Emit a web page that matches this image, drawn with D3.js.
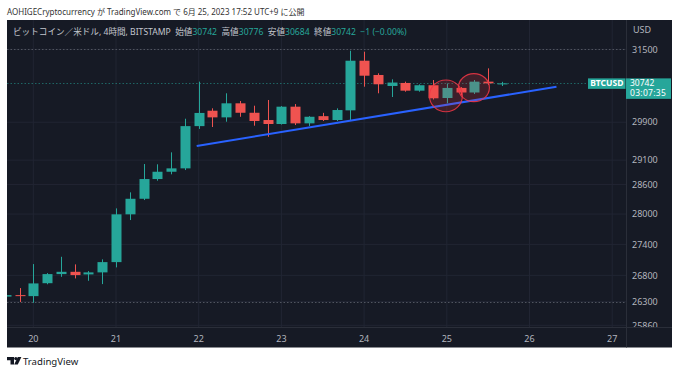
<!DOCTYPE html>
<html>
<head>
<meta charset="utf-8">
<script src="https://cdn.jsdelivr.net/npm/d3@7"></script>
<style>
  body { margin: 0; background: #fff; }
  svg { display: block; font-family: "Noto Sans", "Noto Sans CJK JP", sans-serif; }
</style>
</head>
<body>
<svg id="chart" width="680" height="374"></svg>
<script>
// 4h candles, BTCUSD (BITSTAMP)
const times = [
  "2023-06-19T16:00", "2023-06-19T20:00",
  "2023-06-20T00:00", "2023-06-20T04:00", "2023-06-20T08:00", "2023-06-20T12:00", "2023-06-20T16:00", "2023-06-20T20:00",
  "2023-06-21T00:00", "2023-06-21T04:00", "2023-06-21T08:00", "2023-06-21T12:00", "2023-06-21T16:00", "2023-06-21T20:00",
  "2023-06-22T00:00", "2023-06-22T04:00", "2023-06-22T08:00", "2023-06-22T12:00", "2023-06-22T16:00", "2023-06-22T20:00",
  "2023-06-23T00:00", "2023-06-23T04:00", "2023-06-23T08:00", "2023-06-23T12:00", "2023-06-23T16:00", "2023-06-23T20:00",
  "2023-06-24T00:00", "2023-06-24T04:00", "2023-06-24T08:00", "2023-06-24T12:00", "2023-06-24T16:00", "2023-06-24T20:00",
  "2023-06-25T00:00", "2023-06-25T04:00", "2023-06-25T08:00", "2023-06-25T12:00", "2023-06-25T16:00"
];
const opens = [26396, 26424, 26405, 26650, 26824, 26868, 26818, 26857, 27055, 27995, 28308, 28710, 28860, 28930,
  29817, 30147, 30004, 30307, 30103, 29947, 29862, 30234, 29876, 30030, 29947, 30155,
  31244, 30927, 30685, 30751, 30582, 30701, 30422, 30642, 30542, 30780, 30742];
const highs = [26440, 26557, 27017, 26843, 27158, 27011, 26882, 27108, 28114, 28438, 29020, 29014, 29263, 29975,
  30780, 30199, 30525, 30357, 30255, 30379, 30247, 30291, 30030, 30101, 30198, 31468,
  31446, 30964, 30831, 30780, 30720, 30816, 30740, 30660, 30816, 31074, 30776];
const lows = [26380, 26292, 26279, 26630, 26772, 26741, 26696, 26633, 26953, 27881, 28282, 28676, 28807, 28895,
  29757, 29798, 29911, 30016, 29826, 29591, 29850, 29840, 29820, 29926, 29926, 29947,
  30669, 30525, 30444, 30560, 30560, 30390, 30307, 30484, 30510, 30705, 30684];
const closes = [26424, 26405, 26646, 26824, 26868, 26805, 26857, 27055, 27995, 28308, 28710, 28860, 28930, 29817,
  30099, 30004, 30307, 30103, 29926, 29862, 30234, 29876, 30017, 29947, 30162, 31244,
  30911, 30722, 30760, 30582, 30701, 30416, 30642, 30542, 30780, 30743, 30742];

const priceTicks = [31500, 29900, 29100, 28600, 28000, 27400, 26800, 26300, 25860];
const dayTicks = ["2023-06-20", "2023-06-21", "2023-06-22", "2023-06-23", "2023-06-24", "2023-06-25", "2023-06-26", "2023-06-27"];
const dottedLevels = [31500, 26300];
const lastPrice = 30742;
const countdown = "03:07:35";

// drawings
const trendTimes = ["2023-06-21T23:25", "2023-06-26T07:50"];
const trendPrices = [29396, 30669];
const ellipseTimes = [["2023-06-24T18:58", "2023-06-25T04:31"], ["2023-06-25T03:22", "2023-06-25T12:22"]];
const ellipsePrices = [[30816, 30125], [30958, 30342]];

const header = "AOHIGECryptocurrency が TradingView.com で 6月 25, 2023 17:52 UTC+9 に公開";
const legendParts = [
  ["ビットコイン／米ドル, 4時間, BITSTAMP  ", "l"], ["始値", "l"], ["30742  ", "v"], ["高値", "l"], ["30776  ", "v"],
  ["安値", "l"], ["30684  ", "v"], ["終値", "l"], ["30742  ", "v"], ["−1 (−0.00%)", "v"]
];

const UP = "#26a69a", DOWN = "#ef5350", BG = "#161a25", GRID = "#212533", TXT = "#b2b5be";
const pane = {left: 7, top: 20, right: 626, bottom: 327, outerRight: 672, outerBottom: 347.5};

const parse = s => new Date(s + "Z");
const x = d3.scaleUtc()
  .domain([parse("2023-06-20T00:00"), parse("2023-06-27T00:00")])
  .range([33.3, 612.2]);
const y = d3.scaleLog()
  .domain([31500, 25860])
  .range([49.3, 325.3]);

const svg = d3.select("#chart");

svg.append("text").attr("x", 7).attr("y", 15)
  .attr("font-size", 8).attr("fill", "#333").text(header);

svg.append("rect").attr("x", pane.left).attr("y", pane.top)
  .attr("width", pane.outerRight - pane.left).attr("height", pane.outerBottom - pane.top)
  .attr("fill", BG);

svg.append("clipPath").attr("id", "plot").append("rect")
  .attr("x", pane.left).attr("y", pane.top)
  .attr("width", pane.right - pane.left).attr("height", pane.bottom - pane.top);
svg.append("clipPath").attr("id", "yaxis").append("rect")
  .attr("x", pane.right).attr("y", pane.top)
  .attr("width", pane.outerRight - pane.right).attr("height", pane.bottom - pane.top);

const plot = svg.append("g").attr("clip-path", "url(#plot)");

// grid
plot.selectAll(".hgrid").data(priceTicks).join("line")
  .attr("x1", pane.left).attr("x2", pane.right)
  .attr("y1", d => y(d)).attr("y2", d => y(d))
  .attr("stroke", GRID).attr("stroke-width", 1);
plot.selectAll(".vgrid").data(dayTicks).join("line")
  .attr("x1", d => x(parse(d + "T00:00"))).attr("x2", d => x(parse(d + "T00:00")))
  .attr("y1", pane.top).attr("y2", pane.bottom)
  .attr("stroke", GRID).attr("stroke-width", 1);
plot.selectAll(".dotted").data(dottedLevels).join("line")
  .attr("x1", pane.left).attr("x2", pane.right)
  .attr("y1", d => Math.round(y(d)) + 0.5).attr("y2", d => Math.round(y(d)) + 0.5)
  .attr("stroke", "#50545f").attr("stroke-dasharray", "1.5,2");

// price line
plot.append("line")
  .attr("x1", pane.left).attr("x2", pane.right)
  .attr("y1", Math.round(y(lastPrice)) + 0.5).attr("y2", Math.round(y(lastPrice)) + 0.5)
  .attr("stroke", UP).attr("stroke-opacity", 0.55).attr("stroke-dasharray", "1.5,2");

// candles
const candles = times.map((t, i) => ({t: parse(t), o: opens[i], h: highs[i], l: lows[i], c: closes[i]}));
const bodyW = 10;
const cg = plot.selectAll(".candle").data(candles).join("g");
cg.append("line")
  .attr("x1", d => Math.round(x(d.t)) + 0.5).attr("x2", d => Math.round(x(d.t)) + 0.5)
  .attr("y1", d => y(d.h)).attr("y2", d => y(d.l))
  .attr("stroke", d => d.c >= d.o ? UP : DOWN).attr("stroke-width", 1);
cg.append("rect")
  .attr("x", d => Math.round(x(d.t)) + 0.5 - bodyW / 2)
  .attr("width", bodyW)
  .attr("y", d => y(Math.max(d.o, d.c)))
  .attr("height", d => Math.max(1, y(Math.min(d.o, d.c)) - y(Math.max(d.o, d.c))))
  .attr("fill", d => d.c >= d.o ? UP : DOWN);

// trend line
plot.append("line")
  .attr("x1", x(parse(trendTimes[0]))).attr("y1", y(trendPrices[0]))
  .attr("x2", x(parse(trendTimes[1]))).attr("y2", y(trendPrices[1]))
  .attr("stroke", "#2962ff").attr("stroke-width", 2);

// ellipses
plot.selectAll(".ell").data(ellipseTimes.map((t, i) => ({t, p: ellipsePrices[i]}))).join("ellipse")
  .attr("cx", d => (x(parse(d.t[0])) + x(parse(d.t[1]))) / 2)
  .attr("cy", d => (y(d.p[0]) + y(d.p[1])) / 2)
  .attr("rx", d => (x(parse(d.t[1])) - x(parse(d.t[0]))) / 2)
  .attr("ry", d => (y(d.p[1]) - y(d.p[0])) / 2)
  .attr("fill", "rgba(242,54,69,0.18)")
  .attr("stroke", "#f23645").attr("stroke-opacity", 0.85).attr("stroke-width", 1.2);

// separators
svg.append("line").attr("x1", pane.right + 0.5).attr("x2", pane.right + 0.5)
  .attr("y1", pane.top).attr("y2", pane.outerBottom).attr("stroke", "#2a2e39");
svg.append("line").attr("x1", pane.left).attr("x2", pane.outerRight)
  .attr("y1", pane.bottom + 0.5).attr("y2", pane.bottom + 0.5).attr("stroke", "#2a2e39");

// legend
const leg = svg.append("text").attr("x", 13).attr("y", 35.3).attr("font-size", 8.6);
leg.selectAll("tspan").data(legendParts).join("tspan")
  .attr("fill", d => d[1] === "v" ? UP : "#c3c6ce")
  .attr("xml:space", "preserve")
  .text(d => d[0]);

// y axis
const yAx = svg.append("g").attr("clip-path", "url(#yaxis)");
svg.append("text").attr("x", 633).attr("y", 32.5).attr("font-size", 9).attr("fill", TXT).text("USD");
yAx.selectAll(".ylab").data(priceTicks).join("text")
  .attr("x", 632).attr("y", d => y(d) + 3.2)
  .attr("font-size", 9).attr("fill", TXT).text(d => d);

// x axis
svg.selectAll(".xlab").data(dayTicks).join("text")
  .attr("x", d => x(parse(d + "T00:00"))).attr("y", 342.3)
  .attr("text-anchor", "middle").attr("font-size", 9).attr("fill", TXT)
  .text(d => +d.slice(8));

// last price labels
const ly = y(lastPrice);
svg.append("rect").attr("x", 588).attr("y", ly - 5).attr("width", 37.5).attr("height", 10.5).attr("fill", UP);
svg.append("text").attr("x", 606.8).attr("y", ly + 3).attr("text-anchor", "middle")
  .attr("font-size", 8.5).attr("font-weight", "bold").attr("fill", "#fff").text("BTCUSD");
svg.append("rect").attr("x", 626).attr("y", ly - 5).attr("width", 45).attr("height", 20.5).attr("fill", UP);
svg.append("text").attr("x", 630).attr("y", ly + 3)
  .attr("font-size", 8.5).attr("fill", "#fff").text(lastPrice);
svg.append("text").attr("x", 630).attr("y", ly + 13)
  .attr("font-size", 8.5).attr("fill", "#fff").attr("letter-spacing", 0.3).text(countdown);

// footer logo
const logo = svg.append("g").attr("fill", "#131722");
logo.append("path").attr("d", "M7 357h7v7.5h-3.5v-4.2h-3.5z");
logo.append("circle").attr("cx", 15.8).attr("cy", 358.6).attr("r", 1.6);
logo.append("path").attr("d", "M17.8 357h3.6l-3.6 7.5h-3.6z");
svg.append("text").attr("x", 23).attr("y", 364.5).attr("font-size", 9.6).attr("fill", "#131722").text("TradingView");
</script>
</body>
</html>
